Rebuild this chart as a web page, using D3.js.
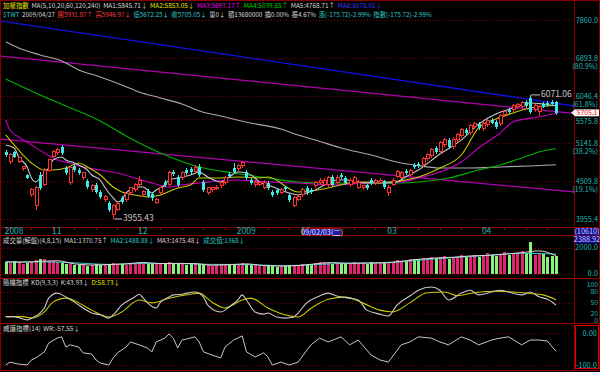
<!DOCTYPE html>
<html><head><meta charset="utf-8">
<script src="https://d3js.org/d3.v7.min.js"></script>
<style>
html,body{margin:0;padding:0;background:#000;}
svg{display:block;}
text{font-family:"Liberation Sans Narrow","Noto Sans CJK TC",sans-serif;font-size:9px;}
</style></head><body>
<svg id="chart" width="600" height="372"></svg>
<script>
// ---- daily data, 2008/10/17 .. 2009/04/27 (129 trading days) ----
var opens = [4985,4816,4985,4816,4701,4604,4297,4137,4604,4448,4684,4899,4968,5072,4717,4479,4750,4684,4557,4510,
  4372,4448,4342,4224,4180,4024,4094,4253,4224,4327,4372,4448,4297,4357,4312,4194,4327,4494,4448,4652,
  4572,4557,4684,4701,4652,4733,4494,4327,4372,4387,4433,4479,4620,4717,4701,4750,4652,4525,4448,4463,
  4417,4479,4342,4372,4327,4417,4297,4151,4238,4297,4402,4372,4433,4479,4448,4448,4572,4494,4604,4557,
  4448,4494,4417,4402,4448,4525,4479,4479,4510,4327,4463,4588,4572,4668,4604,4766,4783,4766,4866,4916,
  5054,4985,5107,5196,5072,5196,5268,5378,5323,5434,5490,5397,5472,5567,5529,5490,5664,5762,5762,5822,
  5822,5924,6006,5762,5723,5883,5903,5924,5931.87];
var highs = [5019,4968,5002,4899,4750,4620,4402,4433,4652,4717,4866,5019,5054,5107,4750,4750,4783,4717,4652,4541,
  4463,4479,4372,4297,4209,4166,4194,4282,4327,4417,4479,4588,4372,4387,4342,4253,4417,4525,4668,4684,
  4604,4668,4717,4733,4766,4783,4525,4417,4417,4448,4510,4588,4652,4799,4783,4832,4684,4557,4525,4510,
  4525,4510,4372,4402,4402,4433,4327,4282,4312,4402,4433,4402,4510,4557,4557,4588,4604,4604,4636,4588,
  4557,4588,4525,4448,4463,4557,4541,4557,4525,4448,4557,4684,4668,4701,4701,4799,4816,4899,4968,5054,
  5089,5178,5232,5232,5250,5323,5415,5415,5490,5529,5529,5529,5586,5605,5567,5683,5762,5802,5883,5903,
  5944,5965,6071.06,5883,5863,5924,5944,5965,5946.97];
var lows = [4899,4783,4883,4799,4668,4541,4268,4080,4372,4433,4652,4883,4933,4933,4604,4448,4652,4604,4525,4387,
  4342,4312,4238,4194,4052,3955.43,4066,4166,4194,4297,4342,4417,4268,4253,4209,4166,4297,4417,4433,4588,
  4417,4525,4604,4620,4636,4572,4342,4297,4342,4372,4402,4448,4557,4620,4668,4717,4525,4448,4417,4433,
  4387,4372,4268,4297,4312,4357,4194,4123,4209,4268,4297,4312,4402,4448,4433,4417,4417,4463,4541,4448,
  4417,4463,4387,4372,4372,4448,4448,4463,4387,4282,4433,4557,4541,4604,4588,4701,4717,4733,4832,4883,
  4950,4950,5072,5037,5037,5160,5232,5286,5286,5397,5378,5360,5434,5490,5397,5453,5625,5683,5723,5782,
  5782,5802,5683,5723,5644,5802,5822,5842,5672.25];
var closes = [4933,4933,4899,4883,4733,4557,4372,4402,4402,4684,4849,4985,5019,4968,4636,4717,4684,4636,4636,4417,
  4433,4342,4268,4268,4080,4151,4166,4194,4312,4402,4463,4525,4342,4282,4253,4224,4402,4448,4636,4620,
  4448,4636,4636,4652,4717,4604,4372,4402,4402,4417,4479,4557,4588,4652,4750,4799,4557,4479,4494,4479,
  4494,4402,4297,4327,4372,4387,4224,4253,4282,4372,4327,4342,4494,4525,4525,4557,4448,4572,4572,4479,
  4525,4557,4494,4433,4402,4479,4510,4525,4417,4417,4525,4652,4636,4636,4668,4733,4750,4866,4933,5019,
  4985,5142,5196,5072,5196,5286,5378,5323,5453,5490,5415,5490,5548,5509,5434,5644,5723,5723,5842,5863,
  5903,5842,5723,5842,5822,5822,5863,5883,5705.05];
// volume (億)
var volumes = [900,820,1000,870,760,800,880,1050,1150,1080,1000,
  950,880,820,760,700,650,620,700,600,640,720,680,620,740,820,700,760,690,720,800,
  850,900,780,720,700,760,820,900,780,700,740,680,760,820,700,650,620,600,640,700,720,680,640,
  760,800,720,680,620,600,580,640,560,520,580,560,620,640,600,
  700,760,680,820,860,900,880,760,840,800,760,740,900,820,780,760,880,840,800,900,
  820,900,1050,1000,960,1100,1150,1100,1200,1150,1250,1200,1300,1350,1150,1250,1300,1400,1250,1350,1450,1300,
  1400,1550,1450,1350,1500,1650,1450,1550,1600,1700,1550,2388.92,1450,1600,1500,1250,1365,1368];

// moving averages: [day index, value]
var ma5 = [[0,5107],[2,5054],[3,4899],[5,4733],[6,4557],[7,4494],[8,4557],[10,4717],[11,4849],[13,4899],[14,4849],
  [16,4799],[17,4766],[19,4684],[20,4604],[22,4525],[23,4417],[25,4253],[26,4194],[27,4224],[28,4327],[30,4402],
  [31,4417],[32,4417],[33,4372],[34,4327],[35,4372],[37,4448],[38,4525],[40,4557],[41,4572],[43,4604],[45,4652],
  [47,4572],[50,4494],[52,4572],[54,4652],[56,4636],[58,4557],[59,4494],[61,4448],[64,4372],[66,4327],[68,4297],
  [70,4327],[72,4372],[75,4479],[77,4525],[79,4525],[82,4494],[84,4479],[86,4479],[89,4479],[91,4494],[93,4572],
  [96,4684],[101,4950],[106,5196],[110,5490],[114,5683],[118,5802],[122,5903],[125,5883],[128,5845.71]];
var ma10 = [[0,5286],[3,5019],[6,4799],[9,4684],[11,4684],[14,4717],[17,4799],[19,4733],[22,4604],[25,4417],
  [27,4342],[30,4297],[33,4268],[36,4297],[40,4402],[43,4448],[45,4557],[50,4557],[54,4572],[59,4557],[61,4572],
  [68,4342],[76,4417],[80,4479],[84,4494],[89,4494],[93,4525],[96,4572],[101,4717],[106,4933],[110,5415],
  [114,5586],[118,5703],[122,5802],[125,5842],[128,5853.05]];
var ma20 = [[0,5567],[1,5378],[3,5250],[6,5107],[9,4968],[12,4849],[15,4799],[18,4733],[22,4684],[26,4636],
  [30,4557],[34,4479],[38,4417],[41,4448],[45,4479],[53,4525],[61,4494],[68,4479],[76,4448],[84,4479],[92,4494],
  [96,4557],[101,4652],[106,4816],[110,5054],[115,5323],[118,5529],[124,5625],[128,5697.17]];
var ma60 = [[0,6413],[8,6069],[14,5842],[22,5548],[28,5268],[36,4968],[45,4733],[53,4636],[61,4557],[68,4494],
  [76,4479],[84,4479],[92,4479],[96,4494],[103,4557],[110,4684],[115,4766],[120,4883],[124,4985],[128,5039.65]];
var ma120 = [[0,7290],[3,7138],[8,6967],[13,6825],[17,6616],[22,6458],[27,6282],[31,6132],[36,6006],[41,5883],
  [45,5742],[50,5644],[57,5509],[64,5397],[68,5286],[72,5196],[78,5054],[85,4933],[92,4799],[95,4766],[101,4717],
  [108,4717],[115,4733],[122,4750],[128,4768.71]];
// hand-drawn trend lines [day index, price]
var trendBlue = [[-1.33,7835],[132.2,5842]];
var trendUpper = [[-1.33,6943],[132.2,5693]];
var trendLower = [[-1.33,5214],[132.2,4342]];
// volume averages
var vma4 = [[0,900],[4,870],[8,930],[12,980],[16,740],[20,650],[24,690],[28,740],[32,850],[36,760],[40,780],
  [44,760],[48,640],[52,680],[56,740],[60,610],[64,570],[68,610],[72,740],[76,840],[80,780],[84,800],[88,830],
  [92,940],[96,1090],[100,1190],[104,1250],[108,1350],[112,1400],[116,1490],[120,1600],[124,1740],[128,1370.75]];
var vma8 = [[0,880],[8,900],[16,820],[24,700],[32,780],[40,760],[48,700],[56,690],[64,600],[72,680],[80,800],
  [88,820],[96,1020],[104,1220],[112,1380],[120,1560],[128,1488.88]];
// KD and WR
var kLine = [[0,12],[2,12],[5,3],[6,8],[9,36],[10,63],[12,77],[14,66],[16,52],[18,36],[20,22],[22,17],[24,8],
  [25,17],[27,44],[30,66],[31,74],[32,63],[33,50],[35,36],[36,52],[38,66],[39,72],[41,74],[44,80],[46,66],[47,44],
  [50,25],[52,39],[54,58],[55,72],[56,58],[58,25],[60,19],[61,22],[63,11],[65,8],[67,11],[68,22],[70,50],[73,69],
  [75,77],[77,69],[80,63],[82,58],[84,30],[87,19],[89,14],[91,44],[94,69],[96,85],[99,94],[101,85],[103,58],
  [106,77],[108,85],[110,72],[113,80],[115,85],[117,80],[120,72],[122,80],[124,67],[126,60],[128,43.93]];
var dLine = [[0,12],[4,12],[6,8],[9,25],[11,52],[14,63],[17,50],[20,30],[24,11],[27,25],[31,58],[34,50],[38,63],
  [43,74],[45,77],[48,52],[51,36],[55,58],[57,63],[61,36],[65,17],[68,11],[71,35],[75,60],[79,66],[83,50],[87,30],
  [90,25],[94,50],[98,78],[102,80],[105,70],[109,78],[114,82],[118,80],[122,76],[125,72],[128,58.73]];
var wrLine = [[0,-100],[1,-91],[3,-97],[5,-100],[6,-84],[7,-78],[9,-59],[10,-31],[12,-16],[13,-12],[14,-44],
  [15,-37],[17,-44],[18,-62],[20,-66],[21,-84],[22,-94],[24,-100],[25,-78],[26,-62],[28,-44],[29,-28],[31,-37],
  [33,-47],[34,-59],[35,-28],[37,-16],[38,-3],[39,-16],[40,-47],[41,-22],[42,-19],[44,-12],[45,-28],[46,-59],
  [48,-69],[50,-78],[51,-44],[53,-22],[55,-9],[56,-59],[58,-75],[60,-62],[61,-75],[62,-100],[64,-91],[66,-100],
  [68,-91],[71,-37],[73,-16],[75,-28],[78,-12],[80,-37],[82,-22],[85,-69],[87,-84],[89,-91],[92,-37],[94,-28],
  [96,-12],[99,-16],[101,-28],[103,-37],[106,-12],[108,-22],[110,-37],[113,-22],[115,-16],[117,-12],[120,-37],
  [122,-22],[124,-22],[126,-25],[128,-57.55]];
// axis labels
var priceLevels = [7860.0, 6893.8, 6046.4, 5575.8, 5141.8, 4509.8, 3955.4];
var priceLevelPct = ["", "(80.9%)", "(61.8%)", "", "(38.2%)", "(19.1%)", ""];
var monthTickIdx = [0, 11, 31, 54, 69, 89, 111];
var monthTickLabel = ["2008", "11", "12", "2009", "02", "03", "04"];
var kdTicks = [100, 80, 50, 20, 0];

var svg = d3.select("#chart");
var RED = "#8a0000", TEAL = "#22b4b4";

var x = d3.scaleLinear().domain([0, closes.length - 1]).range([5.7, 556]);
var y = d3.scaleLog().domain([3955.4, 7860]).range([219, 20]);
var yVol = d3.scaleLinear().domain([0, 2000]).range([273.5, 247.5]);
var yKD = d3.scaleLinear().domain([0, 100]).range([321, 284.75]);
var yWR = d3.scaleLinear().domain([-100, 0]).range([365, 333]);

svg.append("rect").attr("width", 600).attr("height", 372).attr("fill", "#000");

function label(g, x0, yc, s, color, size, anchor) {
  var t = g.append("text").attr("x", x0).attr("y", yc).attr("dy", "0.35em")
    .attr("fill", color).style("font-size", (size || 9) + "px").text(s);
  if (anchor) t.attr("text-anchor", anchor);
  return t;
}
// lay out header pieces from x0 to x1: font shrinks so the line fits
function flow(g, yc, x0, x1, segs) {
  var gap = 2.5, base = 9.5;
  var ts = segs.map(function(s) { return label(g, 0, yc, s[0], s[1], base); });
  var nat = ts.map(function(t) { return t.node().getComputedTextLength(); });
  var k = Math.min(1, (x1 - x0 - gap * (segs.length - 1)) / d3.sum(nat));
  var xx = x0;
  ts.forEach(function(t, i) {
    t.style("font-size", (base * k) + "px").attr("x", xx);
    xx += nat[i] * k + gap;
  });
}

var defs = svg.append("defs");
defs.append("clipPath").attr("id", "clipMain").append("rect").attr("x", 1).attr("y", 19).attr("width", 573).attr("height", 207);

// ---- grid ----
var grid = svg.append("g").attr("stroke", "#7a0000").attr("stroke-dasharray", "1,2").attr("shape-rendering", "crispEdges");
function gline(yy) {
  grid.append("line").attr("x1", 1).attr("x2", 574).attr("y1", Math.round(yy) + 0.5).attr("y2", Math.round(yy) + 0.5);
}
priceLevels.forEach(function(v) { gline(y(v)); });
[2000, 0].forEach(function(v) { gline(yVol(v)); });
[80, 50, 20].forEach(function(v) { gline(yKD(v)); });
[0, -100].forEach(function(v) { gline(yWR(v)); });

// ---- main price panel ----
var main = svg.append("g").attr("clip-path", "url(#clipMain)");

function trend(pts, color) {
  main.append("line")
    .attr("x1", x(pts[0][0])).attr("y1", y(pts[0][1]))
    .attr("x2", x(pts[1][0])).attr("y2", y(pts[1][1]))
    .attr("stroke", color).attr("stroke-width", 1.3);
}
trend(trendBlue, "#1010e0");
trend(trendUpper, "#b000b0");
trend(trendLower, "#b000b0");

var maLine = d3.line().x(function(d) { return x(d[0]); }).y(function(d) { return y(d[1]); }).curve(d3.curveMonotoneX);
[[ma120, "#a8a8a8"], [ma60, "#00b000"], [ma20, "#c000c0"], [ma10, "#c8c800"], [ma5, "#c8c8c8"]].forEach(function(m) {
  main.append("path").attr("d", maLine(m[0])).attr("fill", "none").attr("stroke", m[1]).attr("stroke-width", 1.1);
});

var idx = d3.range(closes.length);
var candles = main.append("g").attr("shape-rendering", "crispEdges");
idx.forEach(function(i) {
  var cx = Math.round(x(i)) + 0.5;
  var up = closes[i] >= opens[i];
  var col = up ? "#ff3030" : "#40e8e8";
  candles.append("line").attr("x1", cx).attr("x2", cx)
    .attr("y1", y(highs[i])).attr("y2", y(lows[i])).attr("stroke", col);
  var top = y(Math.max(opens[i], closes[i])), bot = y(Math.min(opens[i], closes[i]));
  var h = Math.max(1, bot - top);
  if (up) {
    candles.append("rect").attr("x", cx - 1.5).attr("y", top).attr("width", 3).attr("height", h)
      .attr("fill", "#000").attr("stroke", col).attr("stroke-width", 1);
  } else {
    candles.append("rect").attr("x", cx - 1.5).attr("y", top).attr("width", 3).attr("height", h).attr("fill", col);
  }
});

// high / low notes
var lowI = d3.minIndex(lows), highI = d3.maxIndex(highs);
main.append("line").attr("x1", x(lowI) + 1).attr("x2", 122).attr("y1", y(lows[lowI])).attr("y2", y(lows[lowI])).attr("stroke", "#c8c8c8");
label(main, 123, y(lows[lowI]) - 0.5, d3.format(".2f")(lows[lowI]), "#c8c8c8", 8.5);
main.append("line").attr("x1", x(highI) + 1).attr("x2", 540).attr("y1", y(highs[highI])).attr("y2", 95).attr("stroke", "#c8c8c8");
label(main, 541, 94.5, d3.format(".2f")(highs[highI]), "#c8c8c8", 8.5);

// ---- volume panel ----
var vol = svg.append("g").attr("shape-rendering", "crispEdges");
idx.forEach(function(i) {
  var up = closes[i] >= opens[i];
  vol.append("rect").attr("x", Math.round(x(i)) - 1).attr("width", 3)
    .attr("y", yVol(volumes[i])).attr("height", yVol(0) - yVol(volumes[i]))
    .attr("fill", up ? "#e0256e" : "#86f47a");
});
var volLine = d3.line().x(function(d) { return x(d[0]); }).y(function(d) { return yVol(d[1]); }).curve(d3.curveMonotoneX);
svg.append("path").attr("d", volLine(vma8)).attr("fill", "none").attr("stroke", "#3cc8c8").attr("stroke-width", 1);
svg.append("path").attr("d", volLine(vma4)).attr("fill", "none").attr("stroke", "#d8d8d8").attr("stroke-width", 1);

// ---- KD panel ----
var kdLine = d3.line().x(function(d) { return x(d[0]); }).y(function(d) { return yKD(d[1]); }).curve(d3.curveMonotoneX);
svg.append("path").attr("d", kdLine(dLine)).attr("fill", "none").attr("stroke", "#c8c800").attr("stroke-width", 1.1);
svg.append("path").attr("d", kdLine(kLine)).attr("fill", "none").attr("stroke", "#c8c8c8").attr("stroke-width", 1.1);

// ---- WR panel ----
var wrPath = d3.line().x(function(d) { return x(d[0]); }).y(function(d) { return yWR(d[1]); });
svg.append("path").attr("d", wrPath(wrLine)).attr("fill", "none").attr("stroke", "#c8c8c8").attr("stroke-width", 1);

// ---- frames ----
var frame = svg.append("g").attr("stroke", RED).attr("fill", "none").attr("shape-rendering", "crispEdges");
frame.append("rect").attr("x", 0.5).attr("y", 0.5).attr("width", 599).attr("height", 370);
frame.append("line").attr("x1", 574.5).attr("x2", 574.5).attr("y1", 0).attr("y2", 371);
[227.5, 235.5, 278.5, 323.5].forEach(function(v) {
  frame.append("line").attr("x1", 0).attr("x2", 600).attr("y1", v).attr("y2", v);
});
// date ticks
var dateG = svg.append("g");
idx.forEach(function(i) {
  var isMonth = monthTickIdx.indexOf(i) >= 0;
  if (isMonth || i % 5 == 1) {
    dateG.append("line").attr("x1", Math.round(x(i)) + 0.5).attr("x2", Math.round(x(i)) + 0.5)
      .attr("y1", 227.5).attr("y2", isMonth ? 231 : 229.5).attr("stroke", "#b00000").attr("shape-rendering", "crispEdges");
  }
});
monthTickIdx.forEach(function(i, k) {
  label(dateG, Math.max(4, x(i) - 1), 231.5, monthTickLabel[k], TEAL, 8.5);
});
// cursor date box
dateG.append("rect").attr("x", 303.5).attr("y", 228.5).attr("width", 37).attr("height", 7)
  .attr("fill", "#1c1caa").attr("stroke", "#a00000");
label(dateG, 322, 232, "09/02/03(二)", "#e8e8ff", 7.3, "middle");

// ---- right axis ----
var ax = svg.append("g");
priceLevels.forEach(function(v, k) {
  var shift = v == 5575.8 ? 2 : 0;
  label(ax, 598, y(v) + shift, v.toFixed(1), TEAL, 7.3, "end");
  if (priceLevelPct[k]) label(ax, 598, y(v) + 8.5, priceLevelPct[k], TEAL, 7.3, "end");
});
// last close marker
var lastY = y(closes[closes.length - 1]);
ax.append("rect").attr("x", 575).attr("y", lastY - 3.5).attr("width", 24).attr("height", 7).attr("fill", "#f4f4f4");
ax.append("path").attr("d", "M571," + lastY + "L575," + (lastY - 3.5) + "L575," + (lastY + 3.5) + "Z").attr("fill", "#f4f4f4");
label(ax, 587, lastY - 0.5, closes[closes.length - 1].toFixed(1), "#ff2020", 6.8, "middle");

ax.append("rect").attr("x", 575).attr("y", 228).attr("width", 24).attr("height", 7.5).attr("fill", "#101090");
label(ax, 587, 231.7, "(10610)", "#c8c8ff", 7.3, "middle");
ax.append("rect").attr("x", 575).attr("y", 236).attr("width", 24).attr("height", 7.5).attr("fill", "#101090");
label(ax, 587, 239.7, d3.max(volumes).toFixed(2), "#c8c8ff", 7.3, "middle");
label(ax, 598, yVol(2000), "2000.0", TEAL, 7.5, "end");
label(ax, 598, yVol(0), "0.0", TEAL, 7.5, "end");
kdTicks.forEach(function(v) {
  label(ax, 598, yKD(v), String(v), TEAL, 6.8, "end");
});
label(ax, 597, yWR(0), "0.00", TEAL, 7.5, "end");
label(ax, 597, yWR(-100), "-100.0", TEAL, 7.5, "end");
ax.append("rect").attr("x", 575.5).attr("y", 325.5).attr("width", 23).attr("height", 43)
  .attr("fill", "none").attr("stroke", "#e00000").attr("shape-rendering", "crispEdges");

// ---- header texts ----
var hd = svg.append("g");
flow(hd, 6, 3, 382, [["加權指數", "#e8e800"], ["MA(5,10,20,60,120,240)", "#d8d8d8"], ["MA1:5845.71↓", "#d8d8d8"],
  ["MA2:5853.05↓", "#e8e800"], ["MA3:5697.17↑", "#e800e8"], ["MA4:5039.65↑", "#00d000"],
  ["MA5:4768.71↑", "#d8d8d8"], ["MA6:5078.01↓", "#3838ff"]]);
flow(hd, 15, 3, 432, [["$TWT", "#30c8c8"], ["2009/04/27", "#d8d8d8"], ["開5931.87↑", "#ff3838"], ["高5946.97↓", "#ff3838"],
  ["低5672.25↓", "#30c8c8"], ["收5705.05↓", "#30c8c8"], ["量0↓", "#d8d8d8"], ["額13680000", "#d8d8d8"],
  ["換0.00%", "#d8d8d8"], ["振4.67%", "#d8d8d8"], ["漲(-175.72)-2.99%", "#30c8c8"], ["指數(-175.72)-2.99%", "#30c8c8"]]);
flow(hd, 240.5, 3, 245, [["成交量(解盤)(4,8,15)", "#d8d8d8"], ["MA1:1370.75↑", "#d8d8d8"], ["MA2:1488.88↓", "#30c8c8"],
  ["MA3:1475.48↓", "#e0c8d8"], ["成交值:1368↓", "#30c8c8"]]);
flow(hd, 283, 3, 120, [["隨機指標", "#d8d8d8"], ["KD(9,3,3)", "#d8d8d8"], ["K:43.93↓", "#d8d8d8"], ["D:58.73↓", "#e8e800"]]);
flow(hd, 328.5, 3, 80, [["威廉指標(14)", "#d8d8d8"], ["WR:-57.55↓", "#d8d8d8"]]);
</script>
</body></html>
